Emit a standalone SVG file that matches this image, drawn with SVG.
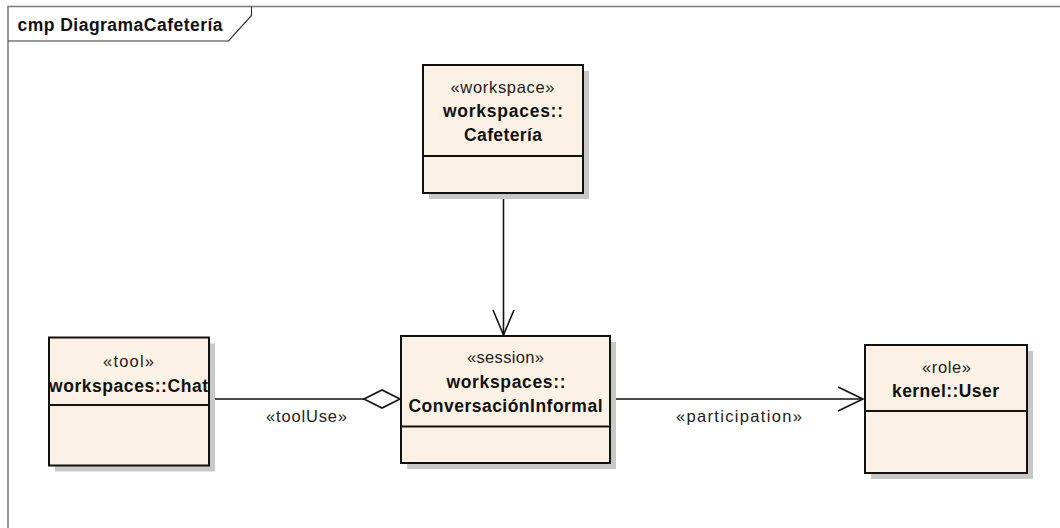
<svg xmlns="http://www.w3.org/2000/svg" width="1060" height="528" viewBox="0 0 1060 528">
  <style>
    .frame { fill: none; stroke: #7a7a7a; stroke-width: 1.5; }
    .tab { fill: none; stroke: #333; stroke-width: 1.2; }
    .shadow { fill: #c8c8c8; stroke: none; }
    .box { fill: #fbf1e4; stroke: #111; stroke-width: 2; }
    .div { stroke: #111; stroke-width: 2; }
    .edge { fill: none; stroke: #111; stroke-width: 1.6; }
    .st { font-family: "Liberation Sans", Arial, sans-serif; font-size: 16.5px; fill: #222; text-anchor: middle; }
    .nm { font-family: "Liberation Sans", Arial, sans-serif; font-size: 17.5px; font-weight: bold; fill: #111; text-anchor: middle; }
    .title { font-family: "Liberation Sans", Arial, sans-serif; font-size: 17.5px; font-weight: bold; fill: #111; }
  </style>

  <!-- diagram frame with name tab -->
  <g id="frame">
    <polyline class="frame" points="1060,6.5 8,6.5 8,528"/>
    <polyline class="tab" points="8,41 228.5,41 251.5,15.5 251.5,6.5"/>
    <text class="title" x="17.5" y="31" textLength="205" lengthAdjust="spacing">cmp DiagramaCafetería</text>
  </g>

  <!-- connectors -->
  <g id="connectors">
    <line class="edge" x1="503.5" y1="194" x2="503.5" y2="335"/>
    <polyline class="edge" points="493,310 503.5,335 514,310"/>

    <line class="edge" x1="210" y1="399" x2="364" y2="399"/>
    <polygon class="edge" style="fill:#fff" points="364,399 382,390 400,399 382,408"/>
    <text class="st" x="306.5" y="422" textLength="81" lengthAdjust="spacing">«toolUse»</text>

    <line class="edge" x1="611" y1="399" x2="863" y2="399"/>
    <polyline class="edge" points="838,387 863,399 838,411"/>
    <text class="st" x="739" y="421.5" textLength="126" lengthAdjust="spacing">«participation»</text>
  </g>

  <!-- workspace node -->
  <g id="cafeteria">
    <rect class="shadow" x="429" y="71" width="160" height="128"/>
    <rect class="box" x="423" y="65" width="160" height="128"/>
    <line class="div" x1="423" y1="156" x2="583" y2="156"/>
    <text class="st" x="502.5" y="93" textLength="104" lengthAdjust="spacing">«workspace»</text>
    <text class="nm" x="503" y="117" textLength="120" lengthAdjust="spacing">workspaces::</text>
    <text class="nm" x="503" y="140.5" textLength="78" lengthAdjust="spacing">Cafetería</text>
  </g>

  <!-- tool node -->
  <g id="chat">
    <rect class="shadow" x="55" y="343.5" width="160" height="128"/>
    <rect class="box" x="49" y="337.5" width="160" height="128"/>
    <line class="div" x1="49" y1="405" x2="209" y2="405"/>
    <text class="st" x="128.5" y="366.5" textLength="51" lengthAdjust="spacing">«tool»</text>
    <text class="nm" x="128.5" y="391.5" textLength="159" lengthAdjust="spacing">workspaces::Chat</text>
  </g>

  <!-- session node -->
  <g id="conversacion">
    <rect class="shadow" x="407" y="342" width="209" height="127"/>
    <rect class="box" x="401" y="336" width="209" height="127"/>
    <line class="div" x1="401" y1="426.5" x2="610" y2="426.5"/>
    <text class="st" x="505.5" y="363" textLength="77" lengthAdjust="spacing">«session»</text>
    <text class="nm" x="506" y="388" textLength="119" lengthAdjust="spacing">workspaces::</text>
    <text class="nm" x="505.5" y="411.5" textLength="194" lengthAdjust="spacing">ConversaciónInformal</text>
  </g>

  <!-- role node -->
  <g id="user">
    <rect class="shadow" x="871" y="351" width="162" height="128"/>
    <rect class="box" x="865" y="345" width="162" height="128"/>
    <line class="div" x1="865" y1="411" x2="1027" y2="411"/>
    <text class="st" x="946.5" y="373" textLength="49" lengthAdjust="spacing">«role»</text>
    <text class="nm" x="945.5" y="396.5" textLength="107" lengthAdjust="spacing">kernel::User</text>
  </g>
</svg>
